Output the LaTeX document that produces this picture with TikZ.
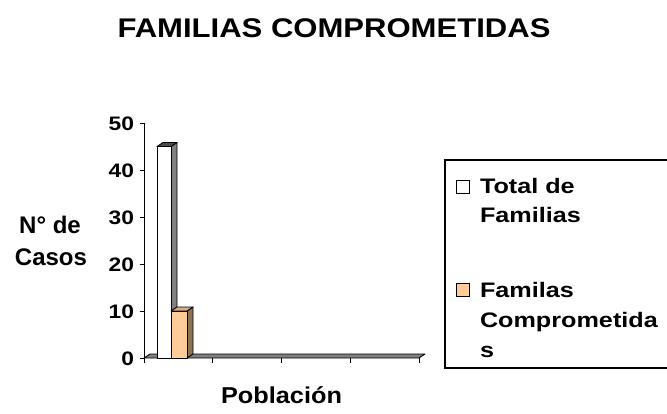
\documentclass[tikz,border=0pt]{standalone}
\usepackage{fontspec}
\setmainfont{Liberation Sans}
\newfontfamily\ftitle{Liberation Sans}[FakeStretch=1.15]
\newfontfamily\ftick{Liberation Sans}[FakeStretch=1.17]
\newfontfamily\fleg{Liberation Sans}[FakeStretch=1.2]
\newfontfamily\fpob{Liberation Sans}[FakeStretch=1.1]
\definecolor{sidegray}{HTML}{808080}
\definecolor{orfront}{HTML}{FFCC99}
\definecolor{orside}{HTML}{8C7356}
\definecolor{ortop}{HTML}{D9AE82}
\tikzset{
  txt/.style={inner sep=0pt, outer sep=0pt},
  ticklab/.style={txt, anchor=east, font=\ftick\bfseries\fontsize{19.5}{22}\selectfont},
  legtxt/.style={txt, anchor=base west, font=\fleg\bfseries\fontsize{21}{24}\selectfont},
  face/.style={draw=black, line width=0.9pt, line join=round},
  axisline/.style={line width=1pt, black},
}
\begin{document}
\begin{tikzpicture}[x=1pt,y=-1pt]
\useasboundingbox (0,0) rectangle (667,413);
\fill[white] (0,0) rectangle (667,413);

% title
\node[txt, anchor=base, font=\ftitle\bfseries\fontsize{27}{30}\selectfont] (title) at (334,37) {FAMILIAS COMPROMETIDAS};

% floor
\draw[face, fill=sidegray] (144,358) -- (419,358) -- (425,354) -- (150,354) -- cycle;

% white bar (45)
\draw[face, fill=sidegray] (171,146.5) -- (177,142.5) -- (177,354) -- (171,358) -- cycle;
\draw[face, fill=white] (157,146.5) rectangle (171,358);
\draw[face, fill=black!70] (157,146.5) -- (163,142.5) -- (177,142.5) -- (171,146.5) -- cycle;

% orange bar (10)
\draw[face, fill=orside] (187,311) -- (193,307) -- (193,354) -- (187,358) -- cycle;
\draw[face, fill=orfront] (171,311) rectangle (187,358);
\draw[face, fill=ortop] (171,311) -- (177,307) -- (193,307) -- (187,311) -- cycle;

% y axis
\coordinate (ytop) at (144,123);
\coordinate (ybot) at (144,358);
\draw[axisline] (ytop) -- (ybot);
\foreach \v/\yy in {0/358,10/311,20/264,30/217,40/170,50/123}{
  \draw[axisline] (140,\yy) -- (144,\yy);
  \node[ticklab] (t\v) at (134,\yy+1) {\v};
}
% x axis ticks
\foreach \xx in {144,212.75,281.5,350.25,419}{
  \draw[axisline] (\xx,358) -- (\xx,363);
}

% axis titles
\node[txt, anchor=base, font=\bfseries\fontsize{24}{26}\selectfont] (yt1) at (50,233) {N° de};
\node[txt, anchor=base, font=\bfseries\fontsize{24}{26}\selectfont] (yt2) at (51,265) {Casos};
\node[txt, anchor=base, font=\fpob\bfseries\fontsize{23}{26}\selectfont] (xt) at (281.5,403) {Población};

% legend
\draw[line width=2pt] (668,160) -- (445,160) -- (445,368) -- (668,368);
\node[draw=black, line width=0.9pt, fill=white, minimum size=13pt, inner sep=0pt] (k1) at (462.5,186.5) {};
\node[draw=black, line width=0.9pt, fill=orfront, minimum size=13pt, inner sep=0pt] (k2) at (462.5,289.5) {};
\node[legtxt] (l1) at (480,193) {Total de};
\node[legtxt] (l2) at (480,222) {Familias};
\node[legtxt] (l3) at (480,297) {Familas};
\node[legtxt] (l4) at (480,327) {Comprometida};
\node[legtxt] (l5) at (480,357) {s};
\end{tikzpicture}
\end{document}
